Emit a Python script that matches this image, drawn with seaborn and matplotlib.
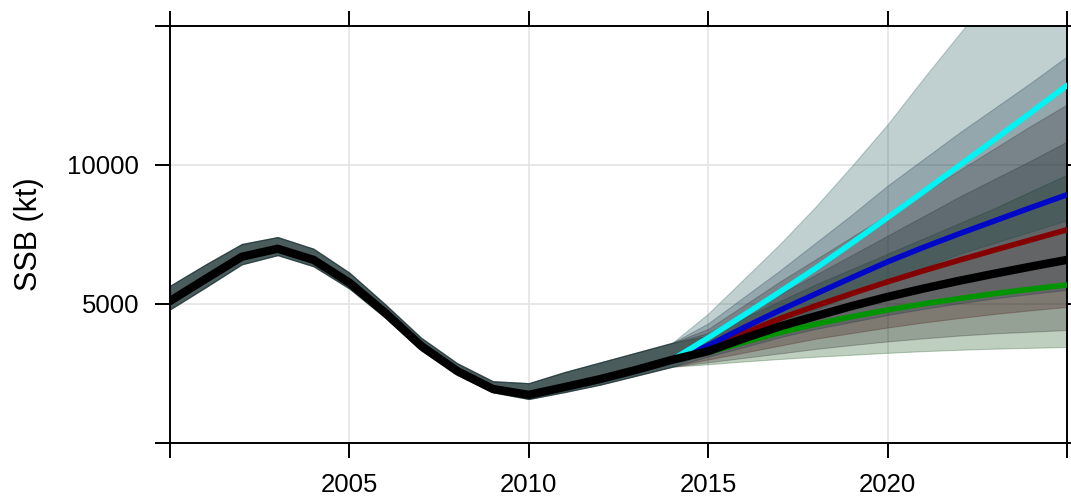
import matplotlib
matplotlib.use("Agg")
import matplotlib.pyplot as plt
import pandas as pd
import seaborn as sns

# Historical spawning stock biomass (kt) with its uncertainty band
hist_years = list(range(2000, 2015))
hist_ssb = [5100, 5900, 6690, 6980, 6580, 5760, 4680, 3490, 2590, 1940, 1730, 2010, 2300, 2630, 2990]
hist_lo = [4800, 5600, 6420, 6750, 6350, 5550, 4500, 3330, 2450, 1820, 1580, 1830, 2100, 2420, 2740]
hist_hi = [5650, 6420, 7150, 7400, 6980, 6120, 4980, 3780, 2870, 2220, 2150, 2550, 2900, 3250, 3600]

# Projections under five management scenarios, 2014-2025
proj_years = list(range(2014, 2026))

cyan_ssb = [2990, 3780, 4600, 5430, 6280, 7180, 8100, 9030, 9970, 10920, 11880, 12850]
cyan_lo = [2740, 3300, 3800, 4300, 4800, 5300, 5800, 6300, 6800, 7200, 7600, 8000]
cyan_hi = [3600, 4650, 5900, 7150, 8500, 9950, 11450, 13100, 14700, 16300, 17800, 19200]

blue_ssb = [2990, 3500, 4150, 4770, 5360, 5940, 6510, 7030, 7520, 7990, 8460, 8920]
blue_lo = [2740, 3100, 3450, 3800, 4100, 4350, 4600, 4820, 5020, 5200, 5360, 5500]
blue_hi = [3600, 4300, 5250, 6200, 7200, 8200, 9250, 10200, 11150, 12050, 12950, 13890]

red_ssb = [2990, 3400, 3950, 4470, 4930, 5370, 5790, 6190, 6570, 6940, 7300, 7660]
red_lo = [2740, 3000, 3250, 3500, 3750, 3950, 4150, 4330, 4490, 4640, 4770, 4890]
red_hi = [3600, 4100, 4950, 5800, 6600, 7400, 8200, 9000, 9800, 10600, 11400, 12160]

base_ssb = [2990, 3300, 3760, 4190, 4560, 4920, 5250, 5550, 5830, 6090, 6340, 6580]
base_lo = [2740, 2900, 3060, 3220, 3380, 3520, 3650, 3760, 3860, 3940, 4000, 4060]
base_hi = [3600, 3950, 4650, 5350, 6050, 6750, 7450, 8150, 8850, 9500, 10150, 10830]

green_ssb = [2990, 3250, 3620, 3970, 4270, 4540, 4780, 5000, 5190, 5370, 5530, 5680]
green_lo = [2740, 2830, 2930, 3020, 3100, 3170, 3240, 3300, 3350, 3390, 3420, 3450]
green_hi = [3600, 3850, 4500, 5100, 5700, 6250, 6800, 7350, 7900, 8450, 9050, 9640]

x_ticks = [2000, 2005, 2010, 2015, 2020, 2025]
x_labels = ["", "2005", "2010", "2015", "2020", ""]
y_ticks = [0, 5000, 10000, 15000]
y_labels = ["", "5000", "10000", ""]

scenarios = {
    # name: (median, lower, upper, line colour, band colour)
    "green": (green_ssb, green_lo, green_hi, "#009400", "#004000"),
    "base": (base_ssb, base_lo, base_hi, "#000000", "#1a1a1a"),
    "red": (red_ssb, red_lo, red_hi, "#850000", "#400808"),
    "blue": (blue_ssb, blue_lo, blue_hi, "#0008c8", "#0e2543"),
    "cyan": (cyan_ssb, cyan_lo, cyan_hi, "#00f4f4", "#074747"),
}

sns.set_theme(style="white")
plt.rcParams["font.family"] = ["Liberation Sans", "DejaVu Sans"]

fig = plt.figure(figsize=(10.71, 5.0), dpi=100)
ax = fig.add_axes([170 / 1071, 57 / 500, 897 / 1071, 417.5 / 500])

all_years = hist_years[:-1] + proj_years

# Uncertainty bands, one per scenario, spanning the whole series
for name, (mid, lo, hi, lc, bc) in scenarios.items():
    ax.fill_between(all_years, hist_lo[:-1] + lo, hist_hi[:-1] + hi,
                    color=bc, alpha=0.25, linewidth=0.8, zorder=2)

# Scenario median trajectories
rows = []
for name, (mid, lo, hi, lc, bc) in scenarios.items():
    if name == "base":
        continue
    for yr, v in zip(proj_years, mid):
        rows.append({"year": yr, "ssb": v, "scenario": name})
proj_df = pd.DataFrame(rows)
palette = {n: s[3] for n, s in scenarios.items() if n != "base"}
sns.lineplot(data=proj_df, x="year", y="ssb", hue="scenario", palette=palette,
             hue_order=["green", "red", "blue", "cyan"], estimator=None,
             linewidth=4.0, legend=False, ax=ax, zorder=3)

# Historical series joined to the baseline projection
base_df = pd.DataFrame({"year": all_years, "ssb": hist_ssb[:-1] + base_ssb})
sns.lineplot(data=base_df, x="year", y="ssb", color="black", linewidth=6.0,
             estimator=None, ax=ax, zorder=4)

ax.set_xlim(2000, 2025)
ax.set_ylim(0, 15000)
ax.set_xticks(x_ticks)
ax.set_xticklabels(x_labels)
ax.set_yticks(y_ticks)
ax.set_yticklabels(y_labels)
ax.set_xlabel("")
ax.set_ylabel("SSB (kt)", fontsize=22, color="black")
ax.yaxis.set_label_coords(-0.140, 0.5)

ax.grid(True, color="#e4e4e4", linewidth=1.2)
ax.set_axisbelow(True)
for sp in ax.spines.values():
    sp.set_color("black")
    sp.set_linewidth(1.4)
    sp.set_visible(True)
ax.tick_params(axis="both", which="major", direction="out", length=10.8, width=1.4,
               color="black", labelsize=18.5, labelcolor="black",
               top=True, right=True, bottom=True, left=True,
               labeltop=False, labelright=False)
ax.tick_params(axis="x", pad=11)
ax.tick_params(axis="y", pad=11.5)

fig.savefig("out.png", dpi=100)
